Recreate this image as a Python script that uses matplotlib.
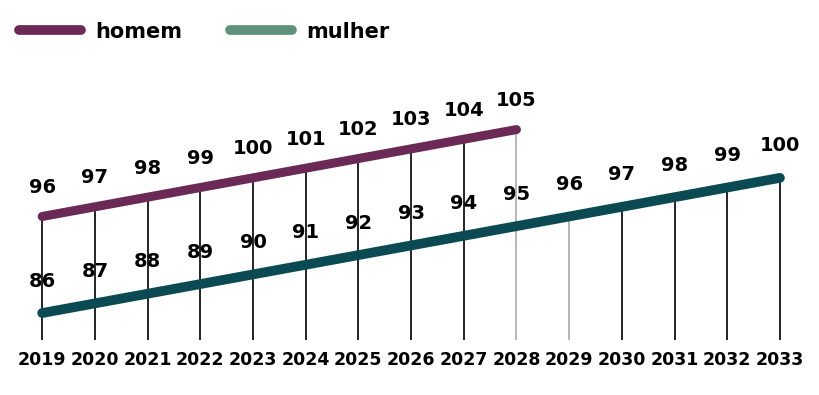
import matplotlib.pyplot as plt
from matplotlib.lines import Line2D

plt.rcParams['font.family'] = ['DejaVu Sans']

anos = list(range(2019, 2034))
homem_anos = anos[:10]
homem = [96, 97, 98, 99, 100, 101, 102, 103, 104, 105]
mulher = [86, 87, 88, 89, 90, 91, 92, 93, 94, 95, 96, 97, 98, 99, 100]

cor_homem = '#6b2a55'
cor_mulher = '#0b4a52'
cor_mulher_leg = '#5f917b'

fig = plt.figure(figsize=(8.2, 3.95), dpi=100)
ax = fig.add_axes([0, 0.139, 1, 0.709])
base = 83.2
ax.set_xlim(2018.2, 2033.76)
ax.set_ylim(base, 112.2)

# linhas verticais até o eixo
for i, a in enumerate(anos):
    topo = homem[i] if i < len(homem) else mulher[i]
    cor = '#aaaaaa' if a in (2028, 2029) else 'black'
    ax.vlines(a, base, topo, color=cor, lw=1.2, zorder=1)

ax.plot(homem_anos, homem, color=cor_homem, lw=6.5, solid_capstyle='round', zorder=3)
ax.plot(anos, mulher, color=cor_mulher, lw=7, solid_capstyle='round', zorder=3)

for a, v in zip(homem_anos, homem):
    ax.annotate(str(v), (a, v), xytext=(0, 21), textcoords='offset points',
                ha='center', va='center', fontsize=14, fontweight='bold')
for a, v in zip(anos, mulher):
    ax.annotate(str(v), (a, v), xytext=(0, 23), textcoords='offset points',
                ha='center', va='center', fontsize=14, fontweight='bold')

ax.set_xticks(anos)
ax.set_xticklabels([str(a) for a in anos], fontsize=12.5, fontweight='bold')
ax.tick_params(axis='x', length=0, pad=8)
ax.set_yticks([])
for s in ax.spines.values():
    s.set_visible(False)

handles = [Line2D([], [], color=cor_homem, lw=7, solid_capstyle='round'),
           Line2D([], [], color=cor_mulher_leg, lw=7, solid_capstyle='round')]
fig.legend(handles, ['homem', 'mulher'], loc='upper left', bbox_to_anchor=(0.0, 0.993),
           ncol=2, frameon=False, handlelength=3.0, handletextpad=0.65, columnspacing=2.3,
           prop={'size': 15, 'weight': 'bold'})

fig.savefig('out.png', dpi=100)
